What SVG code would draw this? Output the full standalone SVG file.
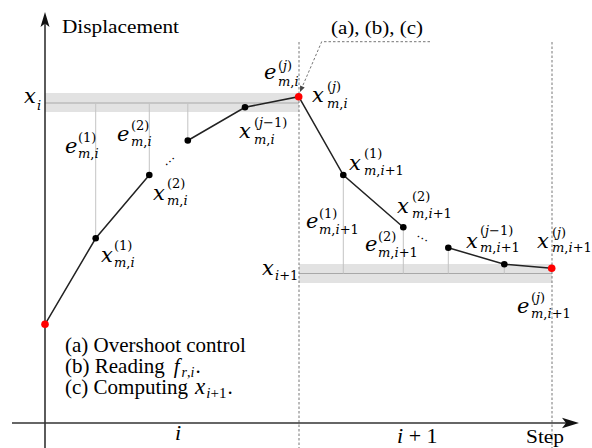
<svg xmlns="http://www.w3.org/2000/svg" width="592" height="448" viewBox="0 0 592 448">
<style>
.mi{font-family:"DejaVu Serif",serif;font-style:italic;font-size:21px;fill:#000}
.sc{font-family:"DejaVu Serif",serif;font-size:13px;fill:#000}
.it{font-style:italic}
.tx{font-family:"Liberation Serif","Times New Roman",serif;font-size:21px;fill:#000}
.ax{stroke:#333;stroke-width:1.6;fill:none}
.band{fill:#e2e2e2}
.bl{stroke:#a8a8a8;stroke-width:1}
.vl{stroke:#c4c4c4;stroke-width:1}
.dash{stroke:#777;stroke-width:1;stroke-dasharray:2.5,2;fill:none}
.conn{stroke:#222;stroke-width:1.5;fill:none}
.pt{fill:#000}
.rp{fill:#ff0000}
</style>
<rect width="592" height="448" fill="#fff"/>
<g id="bands">
<rect class="band" x="45" y="93" width="254" height="19"/>
<line class="bl" x1="45" y1="103" x2="299" y2="103"/>
<rect class="band" x="299" y="264" width="253" height="19"/>
<line class="bl" x1="299" y1="273.5" x2="552" y2="273.5"/>
</g>
<g id="guides">
<line class="vl" x1="95.7" y1="103" x2="95.7" y2="238.3"/>
<line class="vl" x1="149.3" y1="103" x2="149.3" y2="175"/>
<line class="vl" x1="187.8" y1="103" x2="187.8" y2="140.5"/>
<line class="vl" x1="245" y1="103" x2="245" y2="107.3"/>
<line class="vl" x1="343.3" y1="175" x2="343.3" y2="273.5"/>
<line class="vl" x1="403.3" y1="227.3" x2="403.3" y2="273.5"/>
<line class="vl" x1="448.3" y1="247.7" x2="448.3" y2="273.5"/>
<line class="vl" x1="504.3" y1="264.3" x2="504.3" y2="273.5"/>
<line class="dash" x1="299" y1="42" x2="299" y2="448"/>
<line class="dash" x1="552" y1="42" x2="552" y2="448"/>
</g>
<g id="axes">
<line class="ax" x1="45" y1="448" x2="45" y2="22"/>
<path d="M45,12 L49.5,27 L45,23.5 L40.5,27 Z" fill="#111"/>
<line class="ax" x1="12" y1="423" x2="570" y2="423"/>
<path d="M579,423 L562,417.8 L566,423 L562,428.2 Z" fill="#111"/>
<text x="62" y="33" font-family="'Liberation Serif','Times New Roman',serif" font-size="18" textLength="117" lengthAdjust="spacingAndGlyphs">Displacement</text>
<text x="526" y="443" font-family="'Liberation Serif','Times New Roman',serif" font-size="18" textLength="38" lengthAdjust="spacingAndGlyphs">Step</text>
<text x="175" y="440" font-family="'Liberation Serif','Times New Roman',serif" font-style="italic" font-size="22">i</text>
<text x="397" y="443" font-family="'Liberation Serif','Times New Roman',serif" font-size="22"><tspan class="it">i</tspan> + 1</text>
</g>
<g id="connectors">
<polyline class="conn" points="45,324.3 95.7,238.3 149.3,175"/>
<polyline class="conn" points="187.8,140.5 245,107.3 298.7,96.7 343.3,175 403.3,227.3"/>
<polyline class="conn" points="448.3,247.7 504.3,264.3 551.7,268.3"/>
<polyline class="dash" points="430,41.7 321.7,41.7 302.4,86.5"/>
<path d="M300,92 L304.7,87.5 L300.1,85.5 Z" fill="#444"/>
<text x="416" y="239" font-family="'Liberation Serif',serif" font-size="13" transform="rotate(28 422 238)">…</text>
<text x="162" y="163" font-family="'Liberation Serif',serif" font-size="13" transform="rotate(-42 168 160)">…</text>
</g>
<g id="p0"><circle class="rp" cx="45" cy="324.3" r="3.8"/></g>
<g id="xi"><text class="mi" x="24" y="103">x</text><text class="sc" x="37" y="110"><tspan class="it">i</tspan></text></g>
<g id="xi1"><text class="mi" x="262" y="275">x</text><text class="sc" x="275" y="280"><tspan class="it">i</tspan>+1</text></g>
<g id="p1"><circle class="pt" cx="95.7" cy="238.3" r="3.3"/>
<text class="mi" x="101" y="262">x</text><text class="sc" x="114" y="250">(1)</text><text class="sc" x="114" y="267"><tspan class="it">m</tspan>,<tspan class="it">i</tspan></text>
<text class="mi" x="65" y="153">e</text><text class="sc" x="78" y="142">(1)</text><text class="sc" x="78" y="158"><tspan class="it">m</tspan>,<tspan class="it">i</tspan></text></g>
<g id="p2"><circle class="pt" cx="149.3" cy="175" r="3.3"/>
<text class="mi" x="153" y="200">x</text><text class="sc" x="167" y="188">(2)</text><text class="sc" x="167" y="205"><tspan class="it">m</tspan>,<tspan class="it">i</tspan></text>
<text class="mi" x="117" y="141">e</text><text class="sc" x="131" y="130">(2)</text><text class="sc" x="131" y="146"><tspan class="it">m</tspan>,<tspan class="it">i</tspan></text></g>
<g id="p3"><circle class="pt" cx="187.8" cy="140.5" r="3.3"/></g>
<g id="p4"><circle class="pt" cx="245" cy="107.3" r="3.3"/>
<text class="mi" x="239" y="138">x</text><text class="sc" x="254" y="127">(<tspan class="it">j</tspan>−1)</text><text class="sc" x="254" y="144"><tspan class="it">m</tspan>,<tspan class="it">i</tspan></text></g>
<g id="p5"><circle class="rp" cx="298.7" cy="96.7" r="3.8"/>
<text class="mi" x="312" y="102">x</text><text class="sc" x="327" y="91">(<tspan class="it">j</tspan>)</text><text class="sc" x="327" y="108"><tspan class="it">m</tspan>,<tspan class="it">i</tspan></text>
<text class="mi" x="264" y="79">e</text><text class="sc" x="278" y="70">(<tspan class="it">j</tspan>)</text><text class="sc" x="278" y="86"><tspan class="it">m</tspan>,<tspan class="it">i</tspan></text>
<text x="331" y="34" font-family="'Liberation Serif','Times New Roman',serif" font-size="19" textLength="92" lengthAdjust="spacingAndGlyphs">(a), (b), (c)</text></g>
<g id="q1"><circle class="pt" cx="343.3" cy="175" r="3.3"/>
<text class="mi" x="349" y="170">x</text><text class="sc" x="364" y="158">(1)</text><text class="sc" x="364" y="175"><tspan class="it">m</tspan>,<tspan class="it">i</tspan>+1</text>
<text class="mi" x="306" y="228">e</text><text class="sc" x="319" y="218">(1)</text><text class="sc" x="319" y="234"><tspan class="it">m</tspan>,<tspan class="it">i</tspan>+1</text></g>
<g id="q2"><circle class="pt" cx="403.3" cy="227.3" r="3.3"/>
<text class="mi" x="397" y="213">x</text><text class="sc" x="412" y="201">(2)</text><text class="sc" x="412" y="218"><tspan class="it">m</tspan>,<tspan class="it">i</tspan>+1</text>
<text class="mi" x="365" y="251">e</text><text class="sc" x="378" y="241">(2)</text><text class="sc" x="378" y="257"><tspan class="it">m</tspan>,<tspan class="it">i</tspan>+1</text></g>
<g id="q3"><circle class="pt" cx="448.3" cy="247.7" r="3.3"/></g>
<g id="q4"><circle class="pt" cx="504.3" cy="264.3" r="3.3"/>
<text class="mi" x="466" y="248">x</text><text class="sc" x="480" y="235">(<tspan class="it">j</tspan>−1)</text><text class="sc" x="480" y="252"><tspan class="it">m</tspan>,<tspan class="it">i</tspan>+1</text></g>
<g id="q5"><circle class="rp" cx="551.7" cy="268.3" r="3.8"/>
<text class="mi" x="537" y="248">x</text><text class="sc" x="552" y="237">(<tspan class="it">j</tspan>)</text><text class="sc" x="552" y="252"><tspan class="it">m</tspan>,<tspan class="it">i</tspan>+1</text>
<text class="mi" x="517" y="313">e</text><text class="sc" x="531" y="302">(<tspan class="it">j</tspan>)</text><text class="sc" x="531" y="318"><tspan class="it">m</tspan>,<tspan class="it">i</tspan>+1</text></g>
<g id="legend">
<text class="tx" x="65" y="352">(a) Overshoot control</text>
<text class="tx" x="65" y="373">(b) Reading<tspan class="it" dx="9">f</tspan><tspan dx="2" dy="4" font-size="14"><tspan class="it">r</tspan>,<tspan class="it">i</tspan></tspan><tspan dx="1" dy="-4">.</tspan></text>
<text class="tx" x="65" y="394">(c) Computing<tspan class="it" dx="7" font-size="23">x</tspan><tspan dx="1" dy="4" font-size="15"><tspan class="it">i</tspan>+1</tspan><tspan dx="1" dy="-4">.</tspan></text>
</g>
</svg>
